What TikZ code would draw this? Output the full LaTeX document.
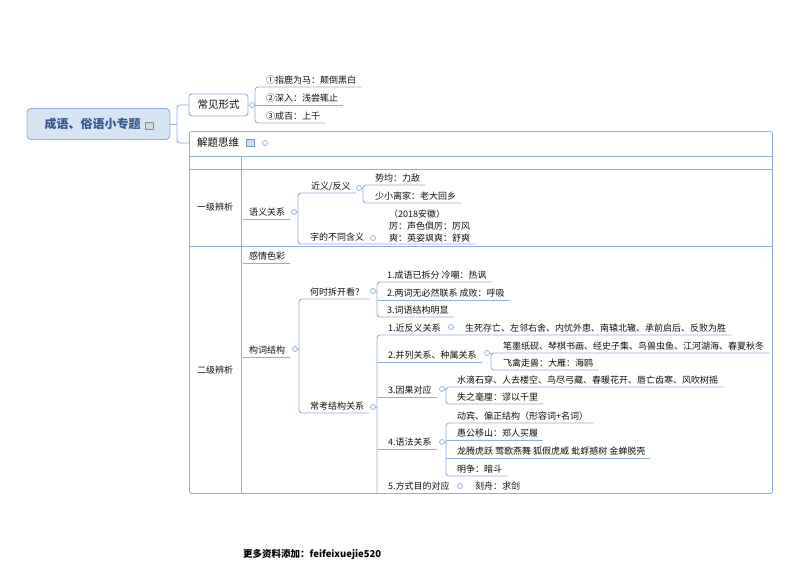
\documentclass[tikz,border=0pt]{standalone}
\usepackage{fontspec}
\usepackage{xcolor}
\usepackage{tikz}
\newfontfamily\cjk{Noto Sans CJK SC}
\definecolor{linkblue}{RGB}{141,176,218}
\definecolor{rootfill}{RGB}{214,227,242}
\definecolor{rootline}{RGB}{146,176,214}
\definecolor{roottext}{RGB}{52,88,142}
\definecolor{inkgray}{RGB}{15,15,15}
\definecolor{icongreen}{RGB}{150,175,160}

\begin{document}
\begin{tikzpicture}[x=1pt, y=-1pt,
    link/.style={draw=linkblue, line width=0.9pt},
    fork/.style={link, rounded corners=3pt},
    knob/.style={circle, draw=linkblue, fill=white, line width=0.7pt, minimum size=5pt, inner sep=0pt},
    tbase/.style={anchor=south west, inner xsep=5pt, inner ysep=2pt, text=inkgray, font=\cjk\fontsize{9}{12}\selectfont},
    topic/.style={tbase, text height=7pt, text depth=1.5pt},
    rowhead/.style={text=inkgray, font=\cjk\fontsize{9}{11}\selectfont},
    root/.style={draw=rootline, fill=rootfill, line width=0.9pt, rounded corners=4pt, minimum width=143pt, minimum height=31pt, text=roottext, font=\cjk\bfseries\fontsize{12}{14}\selectfont},
    branch/.style={draw=linkblue, fill=white, line width=0.9pt, rounded corners=3pt, minimum width=59pt, minimum height=22pt, text=inkgray, font=\cjk\fontsize{10.5}{12}\selectfont},
    frame/.style={draw=linkblue, line width=0.9pt, rounded corners=2pt, inner sep=0pt},
    icon/.style={draw=#1!85!black, fill=#1!45, line width=0.5pt, minimum width=7.5pt, minimum height=7pt, inner sep=0pt}
]
\useasboundingbox (0,0) rectangle (800,566);

\node[root] (root) at (98.5,124) {成语、俗语小专题\kern12pt};
\node[icon=icongreen] (root-i) at (149,125.5) {};
\node[branch] (cjxs) at (218.5,105) {常见形式};
\node[knob] (cjxs-k) at (252,105) {};

\node[frame, minimum width=583pt, minimum height=362pt, anchor=north west] (tbl) at (189,131) {};
\node[rowhead, font=\cjk\fontsize{10.5}{12}\selectfont] (jtsw) at (218,143) {解题思维};
\node[icon=linkblue] (jtsw-i) at (250,143) {};
\node[knob] (jtsw-k) at (265,143) {};
\draw[link] (189,156) -- (772,156);
\draw[link] (189,169) -- (772,169);
\draw[link] (189,246) -- (772,246);
\draw[link] (241,156) -- (241,493);
\node[rowhead] (yjbx) at (215,207) {一级辨析};
\node[rowhead] (ejbx) at (215,370) {二级辨析};

\node[topic] (a1) at (261,87) {①指鹿为马：颠倒黑白};
\node[topic] (a2) at (261,105) {②深入：浅尝辄止};
\node[topic] (a3) at (261,123) {③成百：上千};

\node[topic] (yygx) at (244,219) {语义关系};
\node[knob] (yygx-k) at (294,212) {};
\node[topic] (jyfy) at (306,193) {近义/反义};
\node[knob] (jyfy-k) at (359,188) {};
\node[topic] (sjld) at (370,185) {势均：力敌};
\node[topic] (sxlj) at (370,203) {少小离家：老大回乡};
\node[topic] (zdbt) at (305,244) {字的不同含义};
\node[knob] (zdbt-k) at (373,238) {};
\node[tbase, align=left] (zdbt-sub) at (384,244) {（2018安徽）\\厉：声色俱厉：厉风\\爽：英姿飒爽：舒爽};

\node[topic] (gqsc) at (244,263) {感情色彩};
\node[topic] (gcjg) at (244,357) {构词结构};
\node[knob] (gcjg-k) at (295,349) {};
\node[topic] (hskk) at (305,299) {何时拆开看？};
\node[knob] (hskk-k) at (373,291) {};
\node[topic] (h1) at (382,282) {1.成语已拆分 冷嘲：热讽};
\node[topic] (h2) at (382,300) {2.两词无必然联系 成败：呼吸};
\node[topic] (h3) at (382,317) {3.词语结构明显};
\node[topic] (ckjg) at (305,413) {常考结构关系};
\node[knob] (ckjg-k) at (373,407) {};

\node[topic] (k1) at (383,335) {1.近反义关系};
\node[knob] (k1-k) at (451,327) {};
\node[topic] (k1a) at (460,335) {生死存亡、左邻右舍、内忧外患、南辕北辙、承前启后、反败为胜};
\node[topic] (k2) at (383,362) {2.并列关系、种属关系};
\node[knob] (k2-k) at (487,353) {};
\node[topic] (k2a) at (498,353) {笔墨纸砚、琴棋书画、经史子集、鸟兽虫鱼、江河湖海、春夏秋冬};
\node[topic] (k2b) at (498,370) {飞禽走兽：大雁：海鸥};
\node[topic] (k3) at (383,397) {3.因果对应};
\node[knob] (k3-k) at (442,389) {};
\node[topic] (k3a) at (452,387) {水滴石穿、人去楼空、鸟尽弓藏、春暖花开、唇亡齿寒、风吹树摇};
\node[topic] (k3b) at (452,404) {失之毫厘：谬以千里};
\node[topic] (k4) at (383,449) {4.语法关系};
\node[knob] (k4-k) at (442,442) {};
\node[topic] (k4a) at (452,423) {动宾、偏正结构（形容词+名词）};
\node[topic] (k4b) at (452,440) {愚公移山：郑人买履};
\node[topic] (k4c) at (452,458) {龙腾虎跃 莺歌燕舞 狐假虎威 蚍蜉撼树 金蝉脱壳};
\node[topic] (k4d) at (452,476) {明争：暗斗};
\node[topic] (k5) at (383,493) {5.方式目的对应};
\node[knob] (k5-k) at (460,486) {};
\node[topic] (k5a) at (470,493) {刻舟：求剑};

\coordinate (f0) at (177,124);
\coordinate (f1) at (255,105);
\coordinate (f2) at (298,212);
\coordinate (f3) at (363,194);
\coordinate (f4) at (299,349);
\coordinate (f5) at (377,299);
\coordinate (f6) at (377,407);
\coordinate (f7) at (491,362);
\coordinate (f8) at (446,395);
\coordinate (f9) at (446,449);
\coordinate (col) at (243,0);

\draw[link] (root.east) -- (f0);
\draw[fork] (cjxs.west) -| (f0) |- (tbl.west |- jtsw);

\draw[link] (cjxs-k.east) -- (cjxs-k -| f1);
\draw[fork] (a1.south east) -| (f1) |- (a3.south east);
\draw[link] (a2.south east) -- (f1 |- a2.south);

\draw[link] (col |- yygx.south) -- (yygx.south east);
\draw[link] (yygx-k.east) -- (yygx-k -| f2);
\draw[fork] (jyfy.south east) -| (f2) |- (zdbt-sub.south east);
\draw[link] (jyfy-k.east) -- (jyfy-k -| f3);
\draw[fork] (sjld.south east) -| (f3) |- (sxlj.south east);

\draw[link] (col |- gqsc.south) -- (gqsc.south east);
\draw[link] (col |- gcjg.south) -- (gcjg.south east);
\draw[link] (gcjg-k.east) -- (gcjg-k -| f4);
\draw[fork] (hskk.south east) -| (f4) |- (ckjg.south east);
\draw[link] (hskk-k.east) -- (hskk-k -| f5);
\draw[fork] (h1.south east) -| (f5) |- (h3.south east);
\draw[link] (h2.south east) -- (f5 |- h2.south);

\draw[link] (ckjg-k.east) -- (ckjg-k -| f6);
\draw[fork] (k1a.south east) -| (f6) -- (f6 |- k5.south);
\draw[link] (k2.south east) -- (f6 |- k2.south);
\draw[link] (k3.south east) -- (f6 |- k3.south);
\draw[link] (k4.south east) -- (f6 |- k4.south);

\draw[link] (k2-k.east) -- (k2-k -| f7);
\draw[fork] (k2a.south east) -| (f7) |- (k2b.south east);
\draw[link] (k3-k.east) -- (k3-k -| f8);
\draw[fork] (k3a.south east) -| (f8) |- (k3b.south east);
\draw[link] (k4-k.east) -- (k4-k -| f9);
\draw[fork] (k4a.south east) -| (f9) |- (k4d.south east);
\draw[link] (k4b.south east) -- (f9 |- k4b.south);
\draw[link] (k4c.south east) -- (f9 |- k4c.south);

\node[anchor=west, inner sep=0pt, text=black, font=\cjk\bfseries\fontsize{9.5}{11}\selectfont] (footer) at (243,554) {更多资料添加：feifeixuejie520};

\end{tikzpicture}
\end{document}
